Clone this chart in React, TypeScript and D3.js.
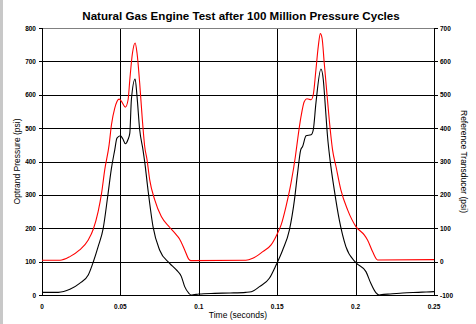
import React from "react";
import * as d3 from "d3";

const title = "Natural Gas Engine Test after 100 Million Pressure Cycles";
const xTitle = "Time (seconds)";
const yLeftTitle = "Optrand Pressure (psi)";
const yRightTitle = "Reference Transducer (psi)";

const xTicks = [0, 0.05, 0.1, 0.15, 0.2, 0.25];
const xTickLabels = ["0", "0.05", "0.1", "0.15", "0.2", "0.25"];
const leftTicks = [0, 100, 200, 300, 400, 500, 600, 700, 800];
const rightTicks = [-100, 0, 100, 200, 300, 400, 500, 600, 700];

// Optrand (black, left axis)
const optrandT = [0, 0.0104, 0.0178, 0.024, 0.0295, 0.0327, 0.0358, 0.039, 0.042, 0.0443, 0.0464, 0.0478, 0.05, 0.0515, 0.0532, 0.0548, 0.056, 0.057, 0.0594, 0.0606, 0.0623, 0.0644, 0.0655, 0.0676, 0.0708, 0.075, 0.0814, 0.0857, 0.0889, 0.091, 0.0937, 0.095, 0.097, 0.1, 0.11, 0.12, 0.13, 0.1335, 0.1387, 0.145, 0.1493, 0.1535, 0.1578, 0.161, 0.163, 0.165, 0.1662, 0.1684, 0.1716, 0.173, 0.1747, 0.1779, 0.1794, 0.1807, 0.1821, 0.1837, 0.1864, 0.1896, 0.1938, 0.2002, 0.2066, 0.2097, 0.2129, 0.215, 0.218, 0.222, 0.23, 0.24, 0.245, 0.25];
const optrandV = [8, 8, 17, 35, 60, 99, 145, 199, 299, 380, 435, 470, 477, 468, 453, 465, 485, 585, 647, 595, 495, 435, 399, 315, 205, 135, 95, 75, 55, 25, 5, 0, 1, 3, 5, 6, 8, 10, 25, 50, 90, 135, 195, 285, 365, 435, 445, 477, 480, 495, 575, 677, 645, 565, 475, 405, 315, 225, 145, 97, 70, 35, 7, 0, 2, 3, 6, 8, 9, 10];

// Reference transducer (red, right axis)
const refT = [0, 0.0115, 0.0178, 0.024, 0.0295, 0.0327, 0.0358, 0.038, 0.04, 0.0428, 0.0443, 0.0464, 0.0492, 0.0507, 0.0532, 0.0549, 0.056, 0.0577, 0.0594, 0.0606, 0.0623, 0.064, 0.0655, 0.067, 0.0687, 0.0719, 0.0761, 0.0814, 0.0857, 0.0878, 0.091, 0.0937, 0.095, 0.13, 0.1344, 0.1408, 0.1461, 0.1497, 0.1525, 0.1556, 0.1588, 0.1616, 0.163, 0.1652, 0.1673, 0.169, 0.1716, 0.173, 0.1747, 0.1762, 0.1775, 0.1786, 0.18, 0.1815, 0.1832, 0.1853, 0.1875, 0.1906, 0.1949, 0.2002, 0.2055, 0.2076, 0.2108, 0.214, 0.25];
const refV = [4, 4, 15, 35, 65, 97, 150, 205, 275, 350, 410, 460, 487, 480, 463, 485, 545, 625, 655, 625, 535, 425, 345, 305, 245, 185, 135, 103, 80, 67, 35, 7, 3, 4, 10, 30, 50, 80, 110, 165, 235, 315, 365, 435, 480, 488, 485, 500, 575, 645, 683, 670, 595, 515, 425, 335, 285, 215, 155, 105, 80, 65, 30, 5, 6];

const W = 476, H = 324;
const L = 42, R = 434, T = 28, B = 295;
const FONT = "'Liberation Sans', Arial, sans-serif";

export default function App() {
  const x = d3.scaleLinear().domain([0, 0.25]).range([L, R]);
  const yL = d3.scaleLinear().domain([0, 800]).range([B, T]);
  const yR = d3.scaleLinear().domain([-100, 700]).range([B, T]);

  const black = d3.line<number>().curve(d3.curveMonotoneX).x((_, i) => x(optrandT[i])).y((v) => yL(v))(optrandV) || "";
  const red = d3.line<number>().curve(d3.curveMonotoneX).x((_, i) => x(refT[i])).y((v) => yR(v))(refV) || "";

  return (
    <svg width={W} height={H} style={{ position: "absolute", left: 0, top: 0, background: "#fff" }} shapeRendering="crispEdges">
      <rect x={0} y={0} width={W} height={H} fill="#fff" />
      <rect x={0} y={0} width={3} height={H} fill="#c8c8c8" />
      <text x={241} y={20} textAnchor="middle" fontFamily={FONT} fontWeight="bold" fontSize={11.6} fill="#000">{title}</text>
      {leftTicks.filter((v) => v > 0 && v < 800).map((v) => (
        <line key={"h" + v} x1={L} x2={R} y1={Math.round(yL(v)) + 0.5} y2={Math.round(yL(v)) + 0.5} stroke="#000" strokeWidth={1} />
      ))}
      {xTicks.filter((v) => v > 0 && v < 0.25).map((v) => (
        <line key={"v" + v} x1={Math.round(x(v)) + 0.5} x2={Math.round(x(v)) + 0.5} y1={T} y2={B} stroke="#000" strokeWidth={1} />
      ))}
      <line x1={L} x2={R} y1={T + 0.5} y2={T + 0.5} stroke="#808080" />
      <line x1={L + 0.5} x2={L + 0.5} y1={T} y2={B + 1} stroke="#000" />
      <line x1={R + 0.5} x2={R + 0.5} y1={T} y2={B + 1} stroke="#000" />
      <line x1={L} x2={R + 1} y1={B + 0.5} y2={B + 0.5} stroke="#000" />
      {leftTicks.map((v) => (
        <g key={"lt" + v}>
          <line x1={L - 3} x2={L} y1={Math.round(yL(v)) + 0.5} y2={Math.round(yL(v)) + 0.5} stroke="#000" />
          <text x={L - 6} y={yL(v) + 2.5} textAnchor="end" fontFamily={FONT} fontWeight="bold" fontSize={6.5} fill="#000">{v}</text>
        </g>
      ))}
      {rightTicks.map((v) => (
        <g key={"rt" + v}>
          <line x1={R + 1} x2={R + 4} y1={Math.round(yR(v)) + 0.5} y2={Math.round(yR(v)) + 0.5} stroke="#000" />
          <text x={R + 6} y={yR(v) + 2.5} textAnchor="start" fontFamily={FONT} fontWeight="bold" fontSize={6.5} fill="#000">{v}</text>
        </g>
      ))}
      {xTicks.map((v, i) => (
        <text key={"xt" + v} x={x(v)} y={309} textAnchor="middle" fontFamily={FONT} fontWeight="bold" fontSize={6.5} fill="#000">{xTickLabels[i]}</text>
      ))}
      <text x={238} y={318} textAnchor="middle" fontFamily={FONT} fontSize={8.5} fill="#000">{xTitle}</text>
      <text transform={`translate(20,${(T + B) / 2}) rotate(-90)`} textAnchor="middle" fontFamily={FONT} fontSize={8.5} fill="#000">{yLeftTitle}</text>
      <text transform={`translate(461,${(T + B) / 2}) rotate(90)`} textAnchor="middle" fontFamily={FONT} fontSize={8.5} fill="#000">{yRightTitle}</text>
      <path d={red} fill="none" stroke="#ff0000" strokeWidth={1.1} shapeRendering="auto" />
      <path d={black} fill="none" stroke="#000" strokeWidth={1.1} shapeRendering="auto" />
    </svg>
  );
}
